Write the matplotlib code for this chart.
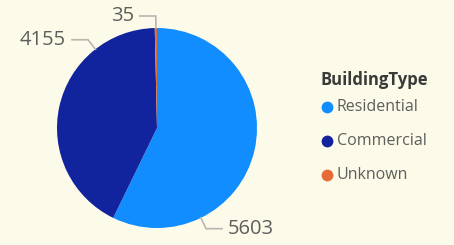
import matplotlib.pyplot as plt
import numpy as np

categories = ["Residential", "Commercial", "Unknown"]
values = [5603, 4155, 35]
colors = ["#118DFF", "#12239E", "#E66C37"]
legend_title = "BuildingType"
# where Power BI hung each data label on the rim (degrees)
label_angles = [-64, 128, 90.6]

bg = "#FCFAE8"
text_grey = "#605E5C"
plt.rcParams['font.family'] = ['Open Sans', 'DejaVu Sans']

fig = plt.figure(figsize=(4.54, 2.45), dpi=100, facecolor=bg)
ax = fig.add_axes([0, 0, 1, 1])
ax.set_facecolor(bg)

cx, cy, r = 157, 117, 100
ax.pie(values, colors=colors, startangle=90, counterclock=False,
       center=(cx, cy), radius=r, frame=True,
       wedgeprops=dict(linewidth=0))
ax.set_xlim(0, 454)
ax.set_ylim(0, 245)
ax.set_aspect("equal")
ax.axis("off")

# data labels with leader lines
for val, ang in zip(values, label_angles):
    a = np.deg2rad(ang)
    x0, y0 = cx + r * np.cos(a), cy + r * np.sin(a)
    x1, y1 = cx + (r + 12) * np.cos(a), cy + (r + 12) * np.sin(a)
    side = 1 if np.cos(a) > 0.01 else -1
    x2 = x1 + side * 16
    ax.plot([x0, x1, x2], [y0, y1, y1], color="#B8B6B0", lw=1.2,
            solid_joinstyle="miter")
    ax.text(x2 + side * 6, y1, f"{val}", color=text_grey, fontsize=14.5,
            ha="left" if side > 0 else "right", va="center")

# legend
ax.text(320, 245 - 80, legend_title, color="#3B3A39", fontsize=12,
        fontweight="bold", ha="left", va="center")
for i, (cat, col) in enumerate(zip(categories, colors)):
    y = 245 - (107 + i * 34)
    ax.plot(327, y, "o", color=col, markersize=8.5, markeredgewidth=0)
    ax.text(337, y, cat, color=text_grey, fontsize=11.5, ha="left", va="center")

fig.savefig("out.png", dpi=100, facecolor=bg)
